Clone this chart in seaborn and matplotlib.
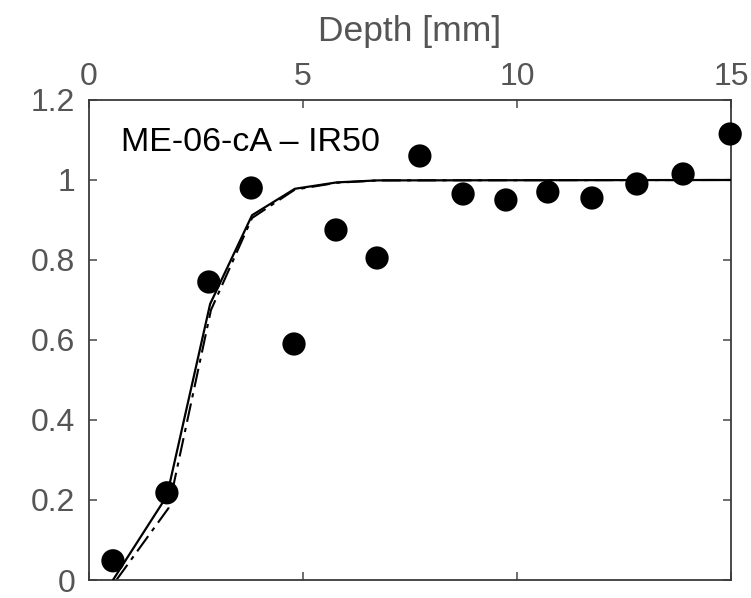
import seaborn as sns
import numpy as np
import pandas as pd
import matplotlib
matplotlib.use("Agg")
import matplotlib.pyplot as plt
from matplotlib.ticker import FormatStrFormatter

# measured points
depth = [0.56, 1.82, 2.80, 3.79, 4.79, 5.77, 6.73, 7.73, 8.74, 9.74, 10.72, 11.75, 12.80, 13.88, 14.98]
ratio = [0.048, 0.218, 0.745, 0.98, 0.59, 0.875, 0.805, 1.06, 0.965, 0.95, 0.97, 0.955, 0.99, 1.015, 1.115]

# fitted curves
fit_depth = [0.56, 1.82, 2.83, 3.81, 4.81, 5.79, 6.75, 15.0]
fit_solid = [0.0, 0.21, 0.69, 0.912, 0.978, 0.994, 0.999, 1.0]
fit2_depth = [0.64, 1.86, 2.85, 3.81, 4.81, 5.79, 6.75, 15.0]
fit2_dash = [0.0, 0.18, 0.675, 0.905, 0.976, 0.993, 0.999, 1.0]

label = "ME-06-cA \u2013 IR50"
xticks = [0, 5, 10, 15]
yticks = [0, 0.2, 0.4, 0.6, 0.8, 1.0, 1.2]

sns.set_style("white")
plt.rcParams["font.family"] = ["Liberation Sans", "DejaVu Sans"]

grey = "#555555"

fig = plt.figure(figsize=(7.51, 5.98), dpi=100)
ax = fig.add_axes([0.1185, 0.0301, 0.8549, 0.8027])

pts = pd.DataFrame({"depth": depth, "ratio": ratio})
solid = pd.DataFrame({"depth": fit_depth, "ratio": fit_solid})
dash = pd.DataFrame({"depth": fit2_depth, "ratio": fit2_dash})

sns.lineplot(data=dash, x="depth", y="ratio", ax=ax, color="black", lw=1.5,
             linestyle=(0, (9, 3, 2, 3)), sort=False, zorder=2)
sns.lineplot(data=solid, x="depth", y="ratio", ax=ax, color="black", lw=1.6,
             sort=False, zorder=3)
sns.scatterplot(data=pts, x="depth", y="ratio", ax=ax, color="black", s=280,
                edgecolor="none", zorder=4, clip_on=False)

ax.set_xlim(0, 15)
ax.set_ylim(0, 1.2)
ax.set_xticks(xticks)
ax.set_yticks(yticks)
ax.yaxis.set_major_formatter(FormatStrFormatter("%g"))

ax.xaxis.tick_top()
ax.xaxis.set_label_position("top")
ax.set_xlabel("Depth [mm]", fontsize=25.5, color=grey, labelpad=15)
ax.set_ylabel("")

ax.tick_params(axis="both", direction="in", length=6, width=1.2, color=grey,
               labelcolor=grey, labelsize=23)
ax.tick_params(axis="x", pad=6, top=True, bottom=True)
ax.tick_params(axis="y", pad=10, left=True, right=True)

for sp in ax.spines.values():
    sp.set_color("#3a3a3a")
    sp.set_linewidth(1.3)
    sp.set_visible(True)

ax.text(0.05, 0.894, label, transform=ax.transAxes, fontsize=24.5,
        color="black", va="baseline", ha="left")

fig.savefig("out.png", dpi=100)
